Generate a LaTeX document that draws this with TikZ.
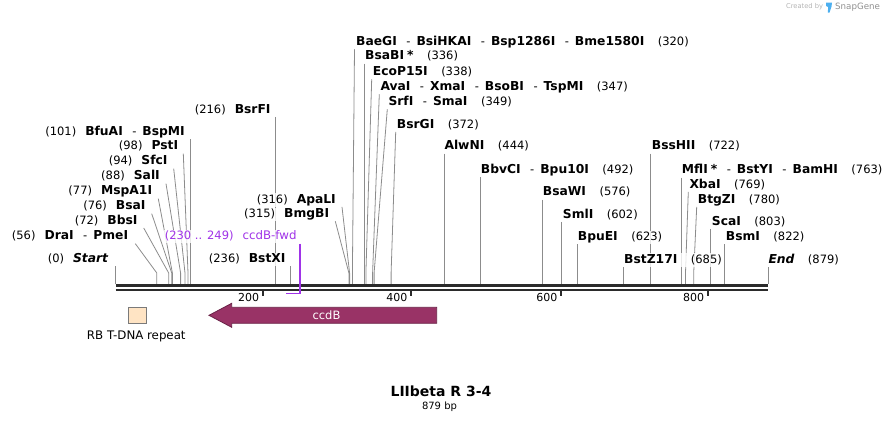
\documentclass[tikz,border=0pt]{standalone}
\usepackage{fontspec}
\setmainfont{DejaVu Sans}
\usepackage{tikz}
\usetikzlibrary{positioning, calc, backgrounds}
\definecolor{SGLine}{HTML}{8C8C8C}
\definecolor{SGDark}{HTML}{2B2B2B}
\definecolor{SGPrimer}{HTML}{A033E8}
\definecolor{SGccdB}{HTML}{993366}
\definecolor{SGccdBEdge}{HTML}{6A2247}
\definecolor{SGRepeat}{HTML}{FFE4C4}
\definecolor{SGRepeatEdge}{HTML}{7A7A7A}
\definecolor{SGLogo}{HTML}{B4B4B4}
\definecolor{SGLogoBlue}{HTML}{4DAFEF}
% enzyme names and separators
\newcommand{\enz}[1]{{\fontsize{12.3}{13}\selectfont\bfseries #1}}
\newcommand{\enzsep}{\hspace{9.5pt}-\hspace{6pt}}
\newcommand{\numgap}{\hspace{9pt}}
\newcommand{\namegap}{\hspace{13.5pt}}
\tikzset{
    % Label styles
    sitelabel/.style={
        inner sep=1pt,
        text height=9pt,
        text depth=2.5pt,
        fill=white,
        fill opacity=0.8,
        text opacity=1,
        font=\fontsize{11.5}{13}\selectfont
    },
    leftlabel/.style={sitelabel, anchor=east},
    rightlabel/.style={sitelabel, anchor=west},
    primerlabel/.style={
        sitelabel,
        anchor=east,
        text=SGPrimer
    },
    ticklabel/.style={
        inner sep=1pt,
        anchor=east,
        font=\fontsize{11}{13}\selectfont
    },
    featurelabel/.style={
        inner sep=1pt,
        font=\fontsize{11.8}{13}\selectfont
    },
    repeatbox/.style={
        rectangle,
        draw=SGRepeatEdge,
        fill=SGRepeat,
        line width=0.8pt,
        minimum width=18pt,
        minimum height=16pt,
        inner sep=0pt
    },
    logotext/.style={
        inner sep=0pt,
        text=SGLogo
    },
    % Line styles
    siteline/.style={draw=SGLine, line width=0.8pt},
    primerline/.style={draw=SGPrimer, line width=1.6pt},
    backbone/.style={draw=SGDark, line width=2.4pt},
    tickmark/.style={draw=SGDark, line width=1.8pt},
    genearrow/.style={
        draw=SGccdBEdge,
        fill=SGccdB,
        line width=0.8pt
    }
}

\begin{document}
\begin{tikzpicture}[x=1pt,y=-1pt]
    \useasboundingbox (0,0) rectangle (884,423);

    % Sites on the backbone
    \coordinate (knee) at (0,273);
    \coordinate (s0) at (115.5,284);
    \coordinate (s56) at (156.8,284);
    \coordinate (s72) at (168.7,284);
    \coordinate (s76) at (171.7,284);
    \coordinate (s77) at (172.4,284);
    \coordinate (s88) at (180.6,284);
    \coordinate (s94) at (185.0,284);
    \coordinate (s98) at (188.0,284);
    \coordinate (s101) at (190.2,284);
    \coordinate (s216) at (275.5,284);
    \coordinate (s236) at (290.3,284);
    \coordinate (s315) at (348.9,284);
    \coordinate (s316) at (349.6,284);
    \coordinate (s320) at (352.4,284);
    \coordinate (s336) at (364.4,284);
    \coordinate (s338) at (365.9,284);
    \coordinate (s347) at (372.6,284);
    \coordinate (s349) at (374.1,284);
    \coordinate (s372) at (391.1,284);
    \coordinate (s444) at (444.5,284);
    \coordinate (s492) at (480.1,284);
    \coordinate (s576) at (542.4,284);
    \coordinate (s602) at (561.7,284);
    \coordinate (s623) at (577.2,284);
    \coordinate (s685) at (623.2,284);
    \coordinate (s722) at (650.7,284);
    \coordinate (s763) at (681.1,284);
    \coordinate (s769) at (685.5,284);
    \coordinate (s780) at (693.7,284);
    \coordinate (s803) at (710.7,284);
    \coordinate (s822) at (724.8,284);
    \coordinate (s879) at (768,284);

    % Left labels
    \node[leftlabel] (lBfuAI) at (186,132.3) {(101)\numgap\enz{BfuAI}\enzsep\enz{BspMI}};
    \node[leftlabel] (lPstI) at (179.3,146.7) {(98)\numgap\enz{PstI}};
    \node[leftlabel] (lSfcI) at (168.7,161.7) {(94)\numgap\enz{SfcI}};
    \node[leftlabel] (lSalI) at (161,176.7) {(88)\numgap\enz{SalI}};
    \node[leftlabel] (lMspA1I) at (153.3,191.7) {(77)\numgap\enz{MspA1I}};
    \node[leftlabel] (lBsaI) at (146.7,206.7) {(76)\numgap\enz{BsaI}};
    \node[leftlabel] (lBbsI) at (138.7,221) {(72)\numgap\enz{BbsI}};
    \node[leftlabel] (lDraI) at (129.3,236.7) {(56)\numgap\enz{DraI}\enzsep\enz{PmeI}};
    \node[leftlabel] (lStart) at (109.3,259.3) {(0)\numgap\enz{\itshape Start}};
    \node[leftlabel] (lBsrFI) at (271.7,110) {(216)\numgap\enz{BsrFI}};
    \node[leftlabel] (lApaLI) at (337,200) {(316)\numgap\enz{ApaLI}};
    \node[leftlabel] (lBmgBI) at (330.3,214.3) {(315)\numgap\enz{BmgBI}};
    \node[leftlabel] (lBstXI) at (286.7,259.3) {(236)\numgap\enz{BstXI}};
    \node[primerlabel] (lfwd) at (297.7,236.7) {(230 .. 249)\numgap{\fontsize{11.8}{13}\selectfont ccdB-fwd}};

    % Right labels
    \node[rightlabel] (lBaeGI) at (355,42.3) {\enz{BaeGI}\enzsep\enz{BsiHKAI}\enzsep\enz{Bsp1286I}\enzsep\enz{Bme1580I}\namegap(320)};
    \node[rightlabel] (lBsaBI) at (364,56.7) {\enz{BsaBI\hspace{3pt}*}\namegap(336)};
    \node[rightlabel] (lEcoP15I) at (371.7,72.3) {\enz{EcoP15I}\namegap(338)};
    \node[rightlabel] (lAvaI) at (379.3,87.3) {\enz{AvaI}\enzsep\enz{XmaI}\enzsep\enz{BsoBI}\enzsep\enz{TspMI}\namegap(347)};
    \node[rightlabel] (lSrfI) at (387.3,102.3) {\enz{SrfI}\enzsep\enz{SmaI}\namegap(349)};
    \node[rightlabel] (lBsrGI) at (395.7,125) {\enz{BsrGI}\namegap(372)};
    \node[rightlabel] (lAlwNI) at (443.3,146.7) {\enz{AlwNI}\namegap(444)};
    \node[rightlabel] (lBbvCI) at (479.7,170) {\enz{BbvCI}\enzsep\enz{Bpu10I}\namegap(492)};
    \node[rightlabel] (lBsaWI) at (541.7,192.7) {\enz{BsaWI}\namegap(576)};
    \node[rightlabel] (lSmlI) at (561.7,215) {\enz{SmlI}\namegap(602)};
    \node[rightlabel] (lBpuEI) at (576.7,237.3) {\enz{BpuEI}\namegap(623)};
    \node[rightlabel] (lBstZ17I) at (623,260) {\enz{BstZ17I}\namegap(685)};
    \node[rightlabel] (lBssHII) at (650.7,146.7) {\enz{BssHII}\namegap(722)};
    \node[rightlabel] (lMflI) at (680.7,170.7) {\enz{MflI\hspace{3pt}*}\enzsep\enz{BstYI}\enzsep\enz{BamHI}\namegap(763)};
    \node[rightlabel] (lXbaI) at (688.3,185) {\enz{XbaI}\namegap(769)};
    \node[rightlabel] (lBtgZI) at (696.7,200) {\enz{BtgZI}\namegap(780)};
    \node[rightlabel] (lScaI) at (710.7,222.3) {\enz{ScaI}\namegap(803)};
    \node[rightlabel] (lBsmI) at (724.7,237.3) {\enz{BsmI}\namegap(822)};
    \node[rightlabel] (lEnd) at (767.3,260) {\enz{\itshape End}\namegap(879)};

    % Site lines
    \begin{scope}[on background layer]
        \draw[siteline] (s101 |- lBfuAI.south) -- (s101);
        \draw[siteline] ([xshift=4pt]lPstI.south east) -- (s98 |- knee) -- (s98);
        \draw[siteline] ([xshift=5pt]lSfcI.south east) -- (s94 |- knee) -- (s94);
        \draw[siteline] ([xshift=5pt]lSalI.south east) -- (s88 |- knee) -- (s88);
        \draw[siteline] ([xshift=5pt]lMspA1I.south east) -- (s77 |- knee) -- (s77);
        \draw[siteline] ([xshift=5pt]lBsaI.south east) -- (s76 |- knee) -- (s76);
        \draw[siteline] ([xshift=5pt]lBbsI.south east) -- (s72 |- knee) -- (s72);
        \draw[siteline] ([xshift=6pt]lDraI.south east) -- (s56 |- knee) -- (s56);
        \draw[siteline] (s0 |- lStart.south) -- (s0);
        \draw[siteline] (s216 |- lBsrFI.south) -- (s216);
        \draw[siteline] ([xshift=5pt]lApaLI.south east) -- (s316 |- knee) -- (s316);
        \draw[siteline] ([xshift=5pt]lBmgBI.south east) -- (s315 |- knee) -- (s315);
        \draw[siteline] (s236 |- lBstXI.south) -- (s236);
        \draw[siteline] ([xshift=-0.5pt]lBaeGI.south west) -- (s320 |- knee) -- (s320);
        \draw[siteline] (s336 |- lBsaBI.south) -- (s336);
        \draw[siteline] (lEcoP15I.south west) -- (s338 |- knee) -- (s338);
        \draw[siteline] (lAvaI.south west) -- (s347 |- knee) -- (s347);
        \draw[siteline] (lSrfI.south west) -- (s349 |- knee) -- (s349);
        \draw[siteline] (lBsrGI.south west) -- (s372 |- knee) -- (s372);
        \draw[siteline] (s444 |- lAlwNI.south) -- (s444);
        \draw[siteline] (s492 |- lBbvCI.south) -- (s492);
        \draw[siteline] (s576 |- lBsaWI.south) -- (s576);
        \draw[siteline] (s602 |- lSmlI.south) -- (s602);
        \draw[siteline] (s623 |- lBpuEI.south) -- (s623);
        \draw[siteline] (s685 |- lBstZ17I.south) -- (s685);
        \draw[siteline] (s722 |- lBssHII.south) -- (s722);
        \draw[siteline] (s763 |- lMflI.south) -- (s763);
        \draw[siteline] (lXbaI.south west) -- (s769 |- knee) -- (s769);
        \draw[siteline] (lBtgZI.south west) -- (s780 |- knee) -- (s780);
        \draw[siteline] (s803 |- lScaI.south) -- (s803);
        \draw[siteline] (s822 |- lBsmI.south) -- (s822);
        \draw[siteline] (s879 |- lEnd.south) -- (s879);
    \end{scope}

    % Backbone
    \coordinate (bbL) at (115.5,285.5);
    \coordinate (bbR) at (768,285.5);
    \draw[backbone] (bbL) -- (bbR);
    \draw[backbone, line width=2pt] ([yshift=-4.2pt]bbL) -- ([yshift=-4.2pt]bbR);

    % Ticks
    \draw[tickmark] (262.7,290.5) -- (262.7,296.3);
    \draw[tickmark] (411,290.5) -- (411,296.3);
    \draw[tickmark] (561,290.5) -- (561,296.3);
    \draw[tickmark] (707.7,290.5) -- (707.7,296.3);
    \node[ticklabel] (n200) at (260.3,297.3) {200};
    \node[ticklabel] (n400) at (408.6,297.3) {400};
    \node[ticklabel] (n600) at (558.6,297.3) {600};
    \node[ticklabel] (n800) at (705.3,297.3) {800};

    % Primer
    \coordinate (p230) at (285.5,293.5);
    \coordinate (p249) at (300.2,293.5);
    \draw[primerline] (p249 |- lfwd.south) -- (p249) -- (p230);

    % Features
    \node[repeatbox] (rb) at (137.5,315.3) {};
    \node[featurelabel] (lrb) at (136.3,336.7) {RB T-DNA repeat};
    \draw[genearrow] (209,315.3) -- (231.7,303.3) -- (231.7,307.3) -- (436.7,307.3)
        -- (436.7,323.3) -- (231.7,323.3) -- (231.7,327.3) -- cycle;
    \node[featurelabel, text=white, font=\fontsize{11.5}{13}\selectfont] (lccdB) at (326.5,315.3) {ccdB};

    % Title
    \node[font=\fontsize{14}{16}\selectfont\bfseries] (title) at (441,391.5) {LIIbeta R 3-4};
    \node[font=\fontsize{10}{12}\selectfont] (size) at (439.5,406.7) {879 bp};

    % Logo
    \node[logotext, font=\fontsize{6.7}{8}\selectfont] (created) at (804.6,7) {Created by};
    \fill[SGLogoBlue] (826,2.5) -- (832,2.5) -- (831.5,6.5) -- (829.5,12.5) -- (827.8,12.5) -- (828.2,7) -- (826,6) -- cycle;
    \node[logotext, font=\fontsize{8.7}{10}\selectfont, text=SGLogo!80!black] (snapgene) at (857.6,7) {SnapGene};
\end{tikzpicture}
\end{document}
